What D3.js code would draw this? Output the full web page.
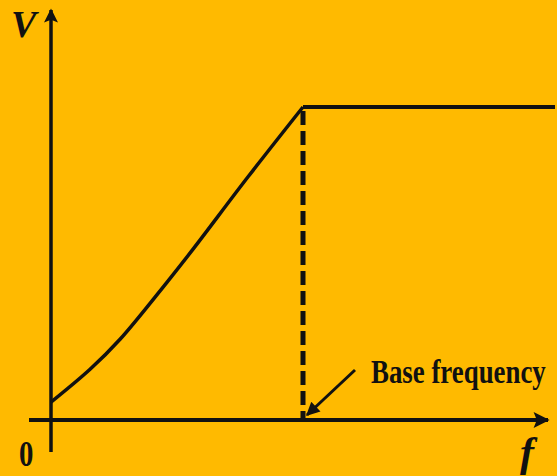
<!DOCTYPE html>
<html>
<head>
<meta charset="utf-8">
<script src="https://cdn.jsdelivr.net/npm/d3@7"></script>
<style>
  html, body { margin: 0; padding: 0; background: #FFBA00; }
  svg { display: block; }
</style>
</head>
<body>
<script>
// Data (normalized: f relative to base frequency, V relative to rated voltage)
const curveF = [0, 0.155, 0.274, 0.46, 0.563, 0.782, 1.0];
const curveV = [0.057, 0.162, 0.258, 0.44, 0.545, 0.777, 1.0];
const flatF = [1.0, 2.0];
const flatV = [1.0, 1.0];
const baseFrequency = 1.0;
const labels = { y: "V", x: "f", origin: "0", base: "Base frequency" };

const W = 557, H = 476;
const svg = d3.select("body").append("svg").attr("width", W).attr("height", H);
svg.append("rect").attr("width", W).attr("height", H).attr("fill", "#FFBA00");

const x = d3.scaleLinear().domain([0, 2]).range([51, 555]);
const y = d3.scaleLinear().domain([0, 1]).range([420, 107]);

const defs = svg.append("defs");
defs.append("marker").attr("id", "arr").attr("viewBox", "0 0 10 10")
  .attr("refX", 9).attr("refY", 5).attr("markerWidth", 4.5).attr("markerHeight", 4)
  .attr("markerUnits", "strokeWidth").attr("orient", "auto")
  .append("path").attr("d", "M0,0 L10,5 L0,10 L2,5 Z").attr("fill", "#111");
defs.append("marker").attr("id", "arr2").attr("viewBox", "0 0 10 10")
  .attr("refX", 9).attr("refY", 5).attr("markerWidth", 5).attr("markerHeight", 4.5)
  .attr("markerUnits", "strokeWidth").attr("orient", "auto")
  .append("path").attr("d", "M0,0 L10,5 L0,10 Z").attr("fill", "#111");

// Axes
svg.append("line").attr("x1", 29).attr("y1", y(0)).attr("x2", 548).attr("y2", y(0))
  .attr("stroke", "#111").attr("stroke-width", 4).attr("marker-end", "url(#arr)");
svg.append("line").attr("x1", x(0)).attr("y1", 452).attr("x2", x(0)).attr("y2", 10)
  .attr("stroke", "#111").attr("stroke-width", 3.5).attr("marker-end", "url(#arr)");

// Curve
const pts = curveF.map((f, i) => [f, curveV[i]]);
const line = d3.line().x(d => x(d[0])).y(d => y(d[1])).curve(d3.curveCatmullRom.alpha(0.5));
svg.append("path").attr("d", line(pts)).attr("fill", "none")
  .attr("stroke", "#111").attr("stroke-width", 3.5).attr("stroke-linejoin", "round");
const fpts = flatF.map((f, i) => [f, flatV[i]]);
svg.append("path").attr("d", d3.line().x(d => x(d[0])).y(d => y(d[1]))(fpts)).attr("fill", "none")
  .attr("stroke", "#111").attr("stroke-width", 4);

// Dashed base frequency line
svg.append("line").attr("x1", x(baseFrequency)).attr("x2", x(baseFrequency))
  .attr("y1", y(1) + 4).attr("y2", y(0))
  .attr("stroke", "#111").attr("stroke-width", 5).attr("stroke-dasharray", "14,6");

// Pointer arrow
svg.append("line").attr("x1", 355).attr("y1", 370).attr("x2", x(baseFrequency) + 4).attr("y2", y(0) - 5)
  .attr("stroke", "#111").attr("stroke-width", 3).attr("marker-end", "url(#arr2)");

// Labels
svg.append("text").attr("transform", "translate(371,383) scale(0.79,1)")
  .attr("font-family", "Liberation Serif, serif").attr("font-weight", "bold")
  .attr("font-size", 34)
  .attr("fill", "#111").text(labels.base);
svg.append("text").attr("x", 11).attr("y", 37)
  .attr("font-family", "Liberation Serif, serif").attr("font-weight", "bold").attr("font-style", "italic")
  .attr("font-size", 38).attr("fill", "#111").text(labels.y);
svg.append("text").attr("transform", "translate(19,466) scale(0.8,1)")
  .attr("font-family", "Liberation Serif, serif").attr("font-weight", "bold")
  .attr("font-size", 36)
  .attr("fill", "#111").text(labels.origin);
svg.append("text").attr("x", 520).attr("y", 466)
  .attr("font-family", "Liberation Serif, serif").attr("font-weight", "bold").attr("font-style", "italic")
  .attr("font-size", 42).attr("fill", "#111").text(labels.x);
</script>
</body>
</html>
